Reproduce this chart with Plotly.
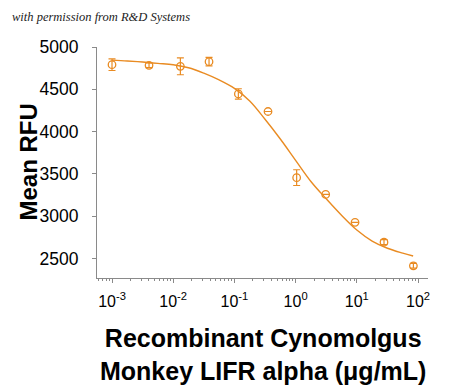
import plotly.graph_objects as go

# Data
conc = [0.001, 0.00403, 0.0131, 0.0385, 0.116, 0.354, 1.04, 3.1, 9.35, 27.8, 84.0]
mean_rfu = [4791, 4783, 4772, 4827, 4445, 4237, 3455, 3256, 2926, 2692, 2412]
err_rfu = [69, 28, 100, 51, 61, 0, 93, 0, 0, 30, 28]

# Fitted curve
curve_x = [0.001, 0.001778, 0.003162, 0.005623, 0.01, 0.01778, 0.03162, 0.05623,
           0.1, 0.1778, 0.3162, 0.5623, 1.0, 1.778, 3.162, 5.623, 10.0, 17.78,
           31.62, 56.23, 83.2]
curve_y = [4845, 4835, 4822, 4806, 4790, 4755, 4690, 4610,
           4510, 4360, 4145, 3912, 3660, 3410, 3205, 3010, 2835, 2705,
           2620, 2562, 2528]

x_ticks = [1e-3, 1e-2, 1e-1, 1e0, 1e1, 1e2]
x_ticktext = ["10<sup>-3</sup>", "10<sup>-2</sup>", "10<sup>-1</sup>",
              "10<sup>0</sup>", "10<sup>1</sup>", "10<sup>2</sup>"]
y_ticks = [2500, 3000, 3500, 4000, 4500, 5000]

color = "#E98B22"
axis_col = "#8a8a8a"
font_fam = "Liberation Sans, Arial, sans-serif"

minor_vals = [m * 10.0 ** e for e in range(-4, 3) for m in range(2, 10)]

fig = go.Figure()
fig.add_trace(go.Scatter(
    x=curve_x, y=curve_y, mode="lines", line=dict(color=color, width=1.4, shape="spline", smoothing=1.0),
    hoverinfo="skip", showlegend=False))
fig.add_trace(go.Scatter(
    x=conc, y=mean_rfu, mode="markers",
    marker=dict(symbol="circle-open", size=7.5, color=color, line=dict(width=1.3, color=color)),
    error_y=dict(type="data", array=err_rfu, visible=True, color=color, thickness=1.2, width=3.5),
    showlegend=False))

# The page body has an 8 px margin, so the figure is 8 px smaller and margins compensate
fig.update_layout(
    width=442, height=379,
    margin=dict(l=89, r=22, t=39, b=109),
    paper_bgcolor="white", plot_bgcolor="white",
    font=dict(family=font_fam, color="black"),
    xaxis=dict(
        type="log", range=[-3.245, 2.163], showgrid=False, zeroline=False,
        showline=True, linecolor=axis_col, linewidth=1,
        tickmode="array", tickvals=x_ticks, ticktext=x_ticktext,
        ticks="outside", ticklen=4, tickcolor=axis_col, tickwidth=1,
        tickfont=dict(size=16, family=font_fam, color="black"),
        ticklabelstandoff=5,
        minor=dict(tickmode="array", tickvals=minor_vals, ticks="outside", ticklen=2,
                   tickcolor=axis_col, tickwidth=1, showgrid=False),
    ),
    yaxis=dict(
        range=[2268, 5000], showgrid=False, zeroline=False,
        showline=True, linecolor=axis_col, linewidth=1,
        tickmode="array", tickvals=y_ticks,
        ticks="outside", ticklen=4, tickcolor=axis_col, tickwidth=1,
        tickfont=dict(size=17.5, family=font_fam, color="black"),
        ticklabelstandoff=10,
    ),
    annotations=[
        dict(text="Mean RFU", textangle=-90, xref="paper", yref="paper",
             x=(28 - 97) / 331, y=0.5, xanchor="center", yanchor="middle", showarrow=False,
             font=dict(size=24, family=font_fam, color="black", weight="bold")),
        dict(text="Recombinant Cynomolgus<br>Monkey LIFR alpha (\u03bcg/mL)",
             xref="paper", yref="paper", x=0.5, y=(278 - 322) / 231,
             xanchor="center", yanchor="top", showarrow=False, align="center",
             font=dict(size=25, family=font_fam, color="black", weight="bold")),
        dict(text="<i>with permission from R&amp;D Systems</i>", xref="paper", yref="paper",
             x=(10 - 97) / 331, y=(278 - 8) / 231, xanchor="left", yanchor="top",
             showarrow=False, font=dict(size=12.5, family="Liberation Serif, serif", color="#222")),
    ],
)

fig.write_html("out.html")
